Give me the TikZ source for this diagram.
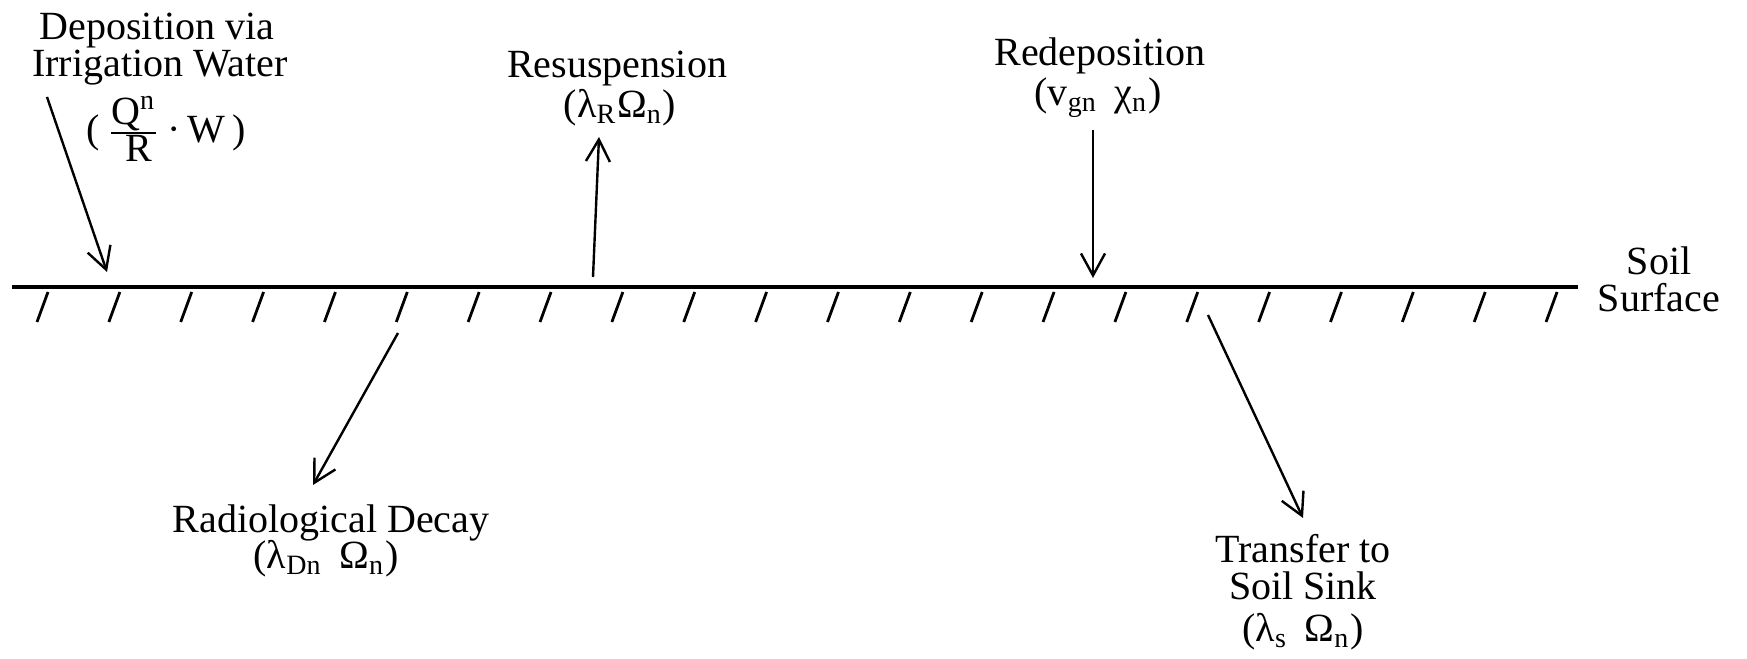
\documentclass[tikz,border=0pt]{standalone}
\usepackage{fontspec}
\setmainfont{Liberation Serif}
\usetikzlibrary{arrows.meta}
\begin{document}
\begin{tikzpicture}[x=0.25pt,y=-0.25pt,
  lbl/.style={anchor=base, inner sep=0pt, font=\fontsize{10pt}{10pt}\selectfont},
  flow/.style={-{Straight Barb[length=5.5pt,width=6pt]}, line width=0.6pt},
  ground/.style={line width=1.2pt},
  hatchline/.style={line width=0.7pt}]
\useasboundingbox (0,0) rectangle (1747,659);

% soil surface
\coordinate (sl) at (12,287);
\coordinate (sr) at (1578,287);
\draw[ground] (sl) -- (sr);
\foreach \i in {0,...,21}{
  \draw[hatchline] ({48+71.86*\i},292) -- ({37+71.86*\i},322);
}
\node[lbl] (soil1) at (1659,275) {Soil};
\node[lbl] (soil2) at (1659,312) {Surface};

% deposition via irrigation water
\node[lbl] (dep1) at (157,40) {Deposition via};
\node[lbl] (dep2) at (160,77) {Irrigation Water};
\node[lbl] (dep3) at (166,143) {(\,$\frac{\mbox{Q\textsuperscript{n}}}{\mbox{\ R}}$\,·\,W\,)};
\coordinate (a1s) at (47,97);
\coordinate (a1e) at (107,272);
\draw[flow] (a1s) -- (a1e);

% resuspension
\node[lbl] (res1) at (617,78) {Resuspension};
\node[lbl] (res2) at (620,118) {(λ\textsubscript{R}Ω\textsubscript{n})};
\coordinate (a2s) at (593,277);
\coordinate (a2e) at (599,137);
\draw[flow] (a2s) -- (a2e);

% redeposition
\node[lbl] (red1) at (1100,66) {Redeposition};
\node[lbl] (red2) at (1098,106) {(v\textsubscript{gn}\, χ\textsubscript{n})};
\coordinate (a3s) at (1093,130);
\coordinate (a3e) at (1093,278);
\draw[flow] (a3s) -- (a3e);

% radiological decay
\node[lbl] (rad1) at (331,533) {Radiological Decay};
\node[lbl] (rad2) at (326,569) {(λ\textsubscript{Dn}\, Ω\textsubscript{n})};
\coordinate (a4s) at (398,333);
\coordinate (a4e) at (313,485);
\draw[flow] (a4s) -- (a4e);

% transfer to soil sink
\node[lbl] (tr1) at (1303,563) {Transfer to};
\node[lbl] (tr2) at (1303,600) {Soil Sink};
\node[lbl] (tr3) at (1303,642) {(λ\textsubscript{s}\, Ω\textsubscript{n})};
\coordinate (a5s) at (1208,315);
\coordinate (a5e) at (1303,518);
\draw[flow] (a5s) -- (a5e);
\end{tikzpicture}
\end{document}
